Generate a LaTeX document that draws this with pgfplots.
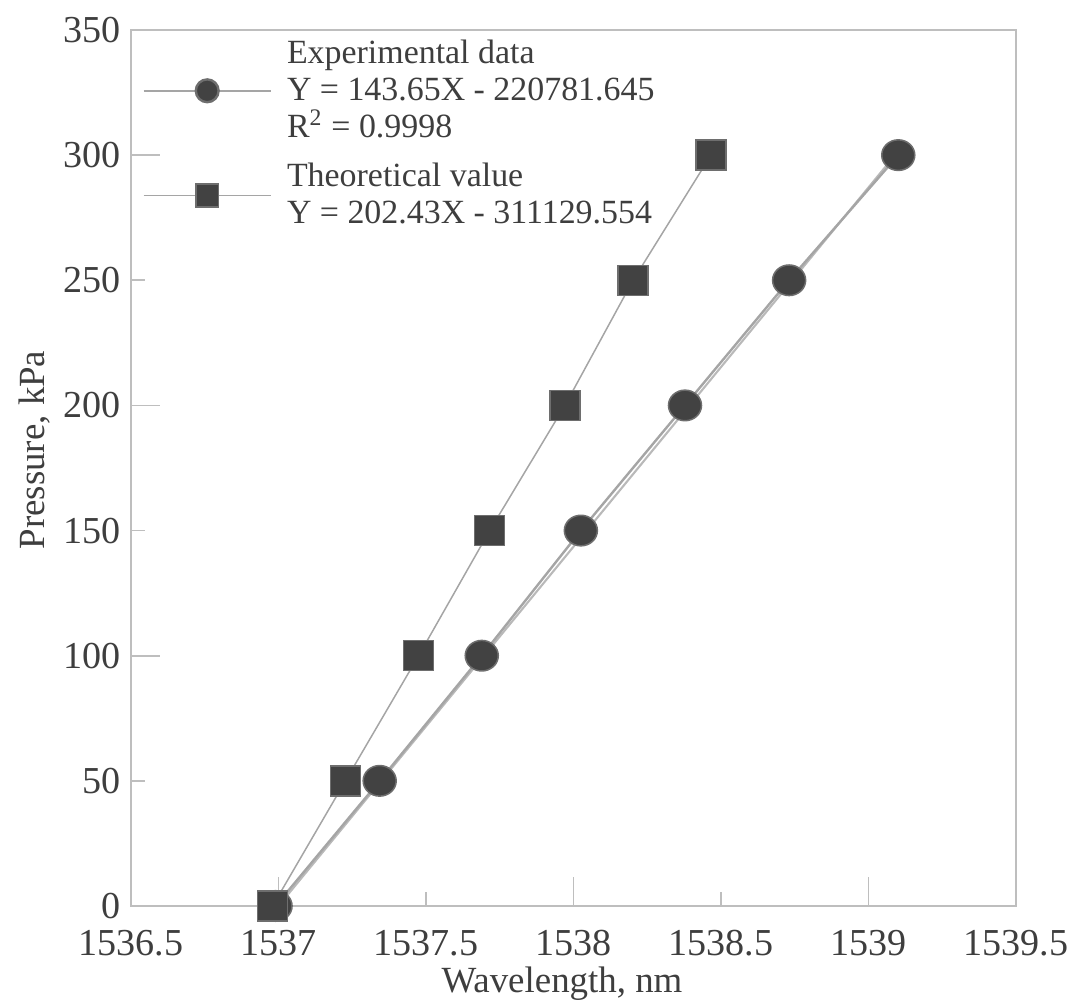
\documentclass[border=0pt]{standalone}
\usepackage{fontspec}
\setmainfont{Liberation Serif}
\usepackage{pgfplots}
\pgfplotsset{compat=1.18}

\definecolor{axisgray}{RGB}{190,190,190}
\definecolor{textgray}{RGB}{62,62,62}
\definecolor{markfill}{RGB}{66,66,66}
\definecolor{markedge}{RGB}{110,110,110}
\definecolor{linegray}{RGB}{165,165,165}
\definecolor{fitgray}{RGB}{185,185,185}

\begin{document}
\begin{tikzpicture}
\begin{axis}[
  scale only axis,
  width=295pt, height=292pt,
  xmin=1536.5, xmax=1539.5, ymin=0, ymax=350,
  axis line style={draw=axisgray, line width=0.6pt},
  tick align=inside, xtick pos=bottom, ytick pos=left,
  xtick={1536.5,1537,1537.5,1538,1538.5,1539,1539.5},
  ytick={0,50,100,150,200,250,300,350},
  major tick length=4.7pt,
  tick style={draw=axisgray, line width=0.6pt},
  extra x ticks={1537,1538,1539}, extra x tick labels={},
  extra y ticks={100,200,300}, extra y tick labels={},
  extra tick style={major tick length=9.8pt},
  /pgf/number format/.cd, fixed, precision=1, 1000 sep={}, assume math mode=true,
  /pgfplots/.cd,
  tick label style={font=\fontsize{12.7}{15}\selectfont, text=textgray},
  xticklabel style={yshift=-4.5pt},
  xlabel={Wavelength, nm},
  ylabel={Pressure, kPa},
  label style={font=\fontsize{12.3}{15}\selectfont, text=textgray},
  xlabel style={at={(axis description cs:0.487,-0.089)}, anchor=center},
  ylabel style={at={(axis description cs:-0.1085,0.5205)}, anchor=center, rotate=0},
  legend cell align=left,
  legend style={
    at={(axis description cs:0,1)}, anchor=north west,
    xshift=3.6pt, yshift=-2pt,
    draw=none, fill=none, inner sep=0pt, row sep=5pt,
    font=\fontsize{11.3}{12.4}\selectfont, text=textgray,
    cells={align=left},
    nodes={inner xsep=5pt, inner ysep=1pt},
  },
  legend image code/.code={%
    \draw[mark repeat=2,mark phase=2,#1]
      plot coordinates {(0pt,0pt) (21.2pt,0pt) (42.4pt,0pt)};},
]
% straight fit through the measured points (drawn beneath them)
\addplot[fitgray, line width=0.7pt, forget plot]
  coordinates {(1537.00,0) (1539.09,300)};

% measured Bragg wavelength shift
\addplot[linegray, line width=0.8pt,
  mark=*, mark size=5.1pt,
  mark options={xscale=1.08, fill=markfill, draw=markedge, line width=0.5pt},
  legend image post style={mark size=3.8pt, mark options={xscale=1, fill=markfill, draw=markedge}}]
  coordinates {
    (1536.99,0) (1537.343,50) (1537.689,100) (1538.025,150)
    (1538.378,200) (1538.731,250) (1539.101,300)
  };
\addlegendentry{{Experimental data\\Y = 143.65X - 220781.645\\R\textsuperscript{2} = 0.9998}}

% theoretical sensitivity
\addplot[linegray, line width=0.5pt,
  mark=square*, mark size=5pt,
  mark options={fill=markfill, draw=markedge, line width=0.5pt},
  legend image post style={mark size=3.8pt}]
  coordinates {
    (1536.98,0) (1537.227,50) (1537.475,100) (1537.716,150)
    (1537.971,200) (1538.202,250) (1538.466,300)
  };
\addlegendentry{{Theoretical value\\Y = 202.43X - 311129.554}}
\end{axis}
\pgfresetboundingbox
\path[use as bounding box] (-43.67pt,-32pt) rectangle (312.67pt,302pt);
\end{tikzpicture}
\end{document}
